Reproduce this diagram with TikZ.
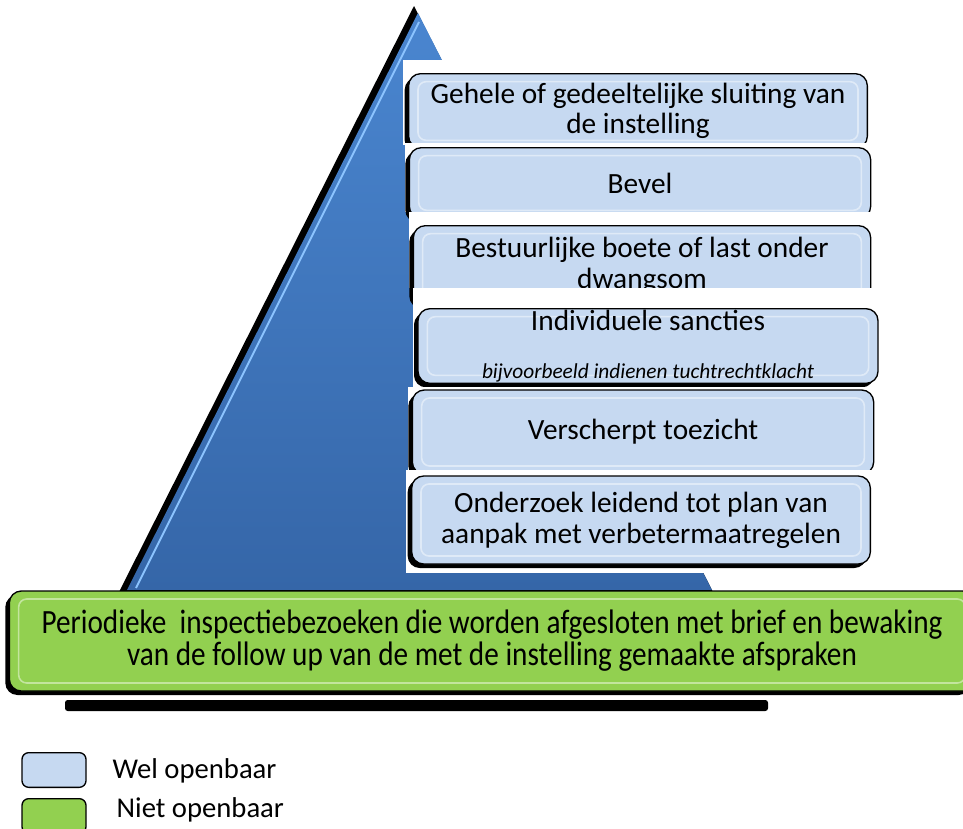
\documentclass[tikz,border=0pt]{standalone}
\usepackage{fontspec}
\setmainfont{Carlito}
\newfontfamily\narrowfont[FakeStretch=0.86]{Carlito}
\usetikzlibrary{shadows}
\definecolor{boxblue}{HTML}{C6D9F1}
\definecolor{boxgreen}{HTML}{92D050}
\definecolor{tritop}{HTML}{4A86D0}
\definecolor{tribot}{HTML}{3566A8}
\definecolor{trilight}{HTML}{8CC4FF}

\begin{document}
\begin{tikzpicture}[x=0.75pt,y=-0.75pt,
    level/.style={draw=black,line width=1pt,fill=boxblue,rounded corners=9pt,align=center,
      font=\fontsize{22}{23}\selectfont,inner sep=0pt,
      drop shadow={shadow xshift=-3pt,shadow yshift=-3pt,fill=black,opacity=1},
      path picture={\draw[white,opacity=0.45,line width=1.2pt,rounded corners=6pt]
        ([shift={(7pt,-6pt)}]path picture bounding box.north west) rectangle
        ([shift={(-7pt,6pt)}]path picture bounding box.south east);}},
    basebox/.style={level,fill=boxgreen,font=\narrowfont\fontsize{25.5}{24}\selectfont},
    backing/.style={fill=white},
    keybox/.style={draw=black,line width=1pt,rounded corners=5pt,minimum width=48pt,minimum height=26pt},
    keytext/.style={anchor=west,font=\fontsize{21.5}{22}\selectfont}]
  \useasboundingbox (0,0) rectangle (963,828);
  % pyramid
  \fill[black] (414,6) -- (119,592) -- (713,592) -- cycle;
  \shade[top color=tritop,bottom color=tribot] (418,13) -- (127,590) -- (712,590) -- cycle;
  \draw[trilight,line width=1.5pt] (419,22) -- (136,588);
  \fill[black,rounded corners=2pt] (65,700) rectangle (768,711);
  % levels, top to bottom
  \fill[backing] (403,60) rectangle (873,145);
  \node[level,minimum width=344pt,minimum height=56pt] (l_6) at (638,111)
    {Gehele of gedeeltelijke sluiting van\\de instelling};
  \fill[backing] (405,143) rectangle (876,212);
  \node[level,minimum width=346pt,minimum height=53pt] (l_5) at (640,183) {Bevel};
  \fill[backing] (409,212) rectangle (876,288);
  \node[level,minimum width=343pt,minimum height=59pt] (l_4) at (642,265)
    {Bestuurlijke boete of last onder\\dwangsom};
  \fill[backing] (413,288) rectangle (882,387);
  \node[level,minimum width=345pt,minimum height=56pt] (l_3) at (648,346)
    {Individuele sancties\\[13pt]{\fontsize{16}{18}\selectfont\itshape bijvoorbeeld indienen tuchtrechtklacht}};
  \fill[backing] (408,387) rectangle (880,470);
  \node[level,minimum width=346pt,minimum height=63pt] (l_2) at (643,432) {Verscherpt toezicht};
  \fill[backing] (406,470) rectangle (878,573);
  \node[level,minimum width=344pt,minimum height=66pt] (l_1) at (641,520)
    {Onderzoek leidend tot plan van\\aanpak met verbetermaatregelen};
  \node[basebox,minimum width=724pt,minimum height=75pt] (l_0) at (492,641)
    {Periodieke\ \ inspectiebezoeken die worden afgesloten met brief en bewaking\\van de follow up van de met de instelling gemaakte afspraken};
  % legend
  \node[keybox,fill=boxblue] (k_1) at (54,770) {};
  \node[keytext] (t_1) at (108,771) {Wel openbaar};
  \node[keybox,fill=boxgreen] (k_2) at (54,816) {};
  \node[keytext] (t_2) at (112,810) {Niet openbaar};
\end{tikzpicture}
\end{document}
